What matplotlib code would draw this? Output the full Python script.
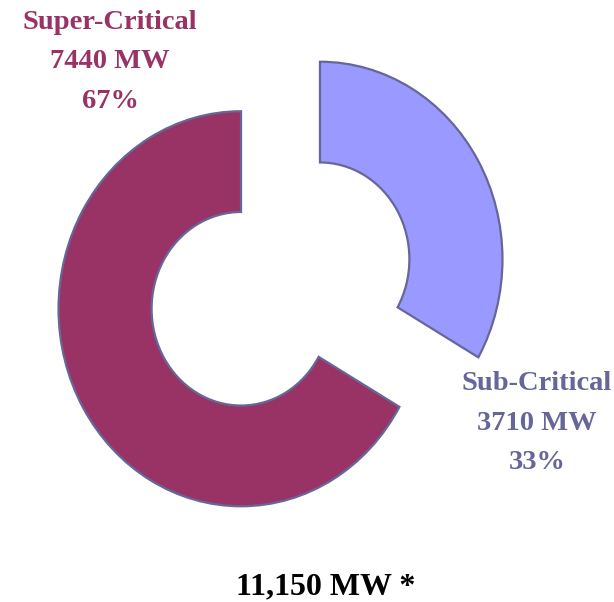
import matplotlib
matplotlib.use("Agg")
import matplotlib.pyplot as plt
import numpy as np

# data
names = ["Sub-Critical", "Super-Critical"]
capacity_mw = [3710, 7440]
fill_colors = ["#9999FF", "#993366"]
text_colors = ["#666699", "#993366"]

total = sum(capacity_mw)
shares = [round(100 * v / total) for v in capacity_mw]

plt.rcParams['font.family'] = ['Liberation Serif', 'DejaVu Serif']

fig = plt.figure(figsize=(6.14, 6.02), dpi=100)
ax = fig.add_axes([0, 0, 1, 1])

wedges, _ = ax.pie(capacity_mw, colors=fill_colors, startangle=90, counterclock=False,
                   explode=[0.25, 0.25], radius=1.0,
                   wedgeprops=dict(width=0.51, edgecolor="#666699", linewidth=1.6))

# slightly taller than wide, like the original picture
ax.set_aspect('auto')
px_x, px_y = 182.5, 197.5
cx, cy = 280.5, 284
ax.set_xlim(-cx / px_x, (614 - cx) / px_x)
ax.set_ylim(-(602 - cy) / px_y, cy / px_y)
ax.axis('off')

# labels
sub_txt = "%s\n%d MW\n%d%%" % (names[0], capacity_mw[0], shares[0])
sup_txt = "%s\n%d MW\n%d%%" % (names[1], capacity_mw[1], shares[1])
fig.text(110 / 614, 1 - 62 / 602, sup_txt, ha='center', va='center', fontsize=20.5,
         fontweight='bold', color=text_colors[1], linespacing=1.74)
fig.text(537 / 614, 1 - 423 / 602, sub_txt, ha='center', va='center', fontsize=20.5,
         fontweight='bold', color=text_colors[0], linespacing=1.74)
fig.text(326 / 614, 1 - 587 / 602, "{:,} MW *".format(total), ha='center', va='center',
         fontsize=23, fontweight='bold', color='black')

fig.savefig("out.png", dpi=100)
